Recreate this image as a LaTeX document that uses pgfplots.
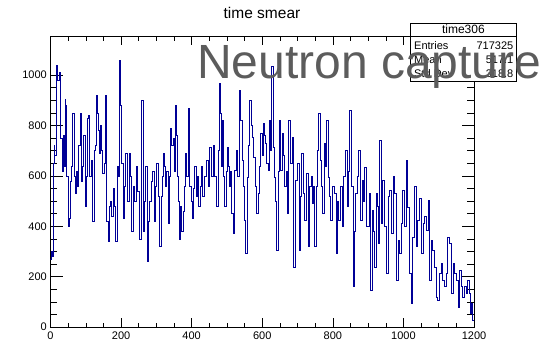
\documentclass[border=0pt]{standalone}
\usepackage{fontspec}
\setmainfont{Liberation Sans}
\usepackage{pgfplots}
\pgfplotsset{compat=1.18}
\definecolor{histblue}{RGB}{0,0,150}
\definecolor{bigtext}{RGB}{92,92,92}
\begin{document}
\begin{tikzpicture}[x=1pt,y=1pt]
\path[use as bounding box] (0,0) rectangle (549,341);
\begin{axis}[
  at={(50.5pt,14pt)}, anchor=south west,
  scale only axis, width=423.5pt, height=291pt,
  xmin=0, xmax=1200, ymin=0, ymax=1155,
  xtick={0,200,...,1200}, ytick={0,200,...,1000},
  minor tick num=3,
  tick align=inside,
  xtick style={black, line width=0.5pt, /pgfplots/major tick length=9pt, /pgfplots/minor tick length=4.5pt},
  ytick style={black, line width=0.5pt, /pgfplots/major tick length=12.5pt, /pgfplots/minor tick length=7pt},
  axis line style={black, line width=0.5pt},
  /pgf/number format/assume math mode=true,
  /pgf/number format/1000 sep={},
  xticklabel style={font=\fontsize{11}{13}\selectfont, anchor=north, inner sep=0pt, yshift=-5pt},
  yticklabel style={font=\fontsize{11}{13}\selectfont, anchor=east, inner sep=0pt, xshift=-3.5pt},
  clip=true,
]
\addplot[const plot, histblue, line width=0.5pt] coordinates {
(0,270) (3,300) (5.7,280) (7.5,650) (10,720) (12,680) (15,1000) (17,1040) (20,980) (24.5,1010)
(26.4,830) (29,750) (33,620) (36,760) (38,640) (40.5,905) (43,880) (45,600) (50,400) (52,430)
(55,580) (60,640) (62,850) (66,600) (69,530) (72,620) (75,560) (78,720) (83,850) (86,700)
(88,580) (91,640) (94,760) (98,480) (101,600) (104,830) (107.5,840) (111,600) (115,660) (119,420)
(123.5,700) (127,720) (130,920) (132,850) (135,780) (137,690) (139.6,800) (144,700) (148,610) (151,650)
(154,920) (158,420) (163,340) (166,480) (168,500) (172,440) (177,550) (181,480) (184,340) (189,640)
(193,600) (196,1060) (198,880) (201,650) (205.6,430) (209,560) (213,690) (218,500) (222.5,690) (226,600)
(229,380) (234,560) (238,500) (243,640) (247,540) (251,350) (257,900) (262,380) (265,500) (269,640)
(274,260) (278,420) (281,500) (285,580) (288.6,620) (293,420) (297,560) (300,650) (304,520) (309,320)
(313,520) (316,600) (319,690) (322,640) (325,560) (329,620) (333,410) (336,600) (339.5,790) (343,720)
(347,750) (350,620) (353.6,880) (356,760) (359,600) (362,500) (364,350) (367,480) (370.6,380) (375,460)
(379,560) (383,690) (386,600) (389,870) (392,700) (394,560) (398,500) (402,430) (405,550) (408,640)
(412,520) (416,600) (419,480) (423,557) (427,640) (431,520) (435,600) (441,662) (446,560) (451,712)
(455,600) (460,720) (465,600) (470,478) (474,700) (477,967) (481,848) (484,640) (487,821) (490,600)
(493,478) (497,620) (500,712) (503,640) (506,557) (509,620) (512,451) (517,372) (520,560) (522,623)
(526,700) (530,600) (534,941) (538,821) (543,662) (547,560) (550,425) (552,292) (557,596) (560,720)
(564,900) (568,800) (572,754) (575,675) (579,560) (583,451) (588,530) (591,640) (595,768) (599,680)
(602,808) (605,760) (608,728) (612,650) (616,623) (621,821) (623,700) (626,1033) (630,712) (635,596)
(638,500) (641,305) (644,620) (647,821) (652,623) (657,768) (660,680) (663,557) (667,620) (670,451)
(675,821) (679,649) (684,754) (689,239) (694,583) (699,649) (704,305) (707,520) (710,688) (715,530)
(720,425) (724,610) (729,319) (734,557) (738,600) (741,491) (745,560) (748,319) (752,560) (755,700)
(759,848) (764,662) (767,560) (770,451) (775,728) (778,640) (781,821) (786,596) (789,520) (792,425)
(798,557) (805,530) (809,292) (812,500) (816,425) (821,557) (826,398) (830,600) (834,700) (840,478)
(843,620) (847,861) (852,557) (857,160) (860,380) (864,530) (868,600) (872,700) (877,425) (883,583)
(886,500) (890,636) (896,398) (902,530) (907,147) (911,464) (915,380) (918,239) (923,530) (926,480)
(929,332) (932,742) (937,412) (941,583) (946,398) (951,213) (956,517) (960,543) (965,372) (970,597)
(974,531) (979,187) (984,345) (989,292) (993,412) (998,543) (1003,398) (1007,663) (1012,477) (1017,213)
(1022,94) (1026,358) (1032,557) (1036,319) (1040,425) (1045,510) (1050,292) (1055,412) (1059,438) (1064,385)
(1069,504) (1074,187) (1078,345) (1083,306) (1088,239) (1092,120) (1097,107) (1102,213) (1107,252) (1111,187)
(1116,160) (1121,213) (1125,358) (1130,332) (1135,134) (1140,252) (1144,213) (1149,187) (1154,80) (1158,226)
(1163,160) (1168,120) (1173,160) (1177,134) (1182,187) (1187,134) (1190,54) (1192,94) (1196,28) (1200,28)
};
\end{axis}
% title
\node[anchor=base, inner sep=0pt, font=\fontsize{15.5}{18}\selectfont] at (262,322.7) {time smear};
% stats box
\draw[black, line width=0.5pt, fill=white] (410,259.5) rectangle (516.7,317.7);
\draw[black, line width=0.5pt] (410,304.3) -- (516.7,304.3);
\node[anchor=base, inner sep=0pt, font=\fontsize{12}{14}\selectfont] at (463.4,307) {time306};
\node[anchor=base west, inner sep=0pt, font=\fontsize{11}{13}\selectfont] at (414,291) {Entries};
\node[anchor=base east, inner sep=0pt, font=\fontsize{11}{13}\selectfont] at (513.5,291) {717325};
\node[anchor=base west, inner sep=0pt, font=\fontsize{11}{13}\selectfont] at (414,277.5) {Mean};
\node[anchor=base east, inner sep=0pt, font=\fontsize{11}{13}\selectfont] at (513.5,277.5) {517.1};
\node[anchor=base west, inner sep=0pt, font=\fontsize{11}{13}\selectfont] at (414,264) {Std Dev};
\node[anchor=base east, inner sep=0pt, font=\fontsize{11}{13}\selectfont] at (513.5,264) {318.8};
% overlay text
\node[anchor=base west, inner sep=0pt, text=bigtext, font=\fontsize{48}{56}\selectfont] at (197,263) {Neutron capture};
\end{tikzpicture}
\end{document}
